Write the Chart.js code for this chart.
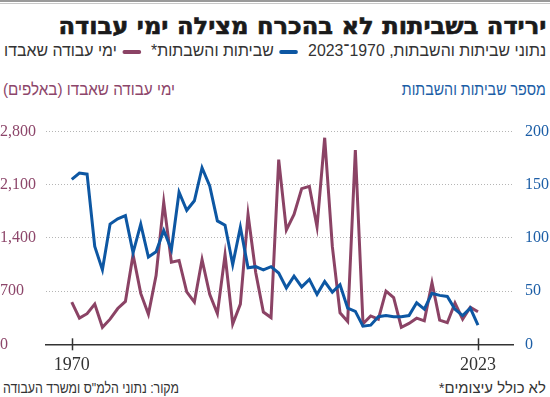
<!DOCTYPE html>
<html lang="he">
<head>
<meta charset="utf-8">
<script src="https://cdn.jsdelivr.net/npm/chart.js@4"></script>
<style>
  html, body { margin:0; padding:0; background:#fff; }
  body { width:550px; height:397px; position:relative; overflow:hidden; font-family:"Liberation Sans Narrow","Liberation Sans",sans-serif; }
  .rule { position:absolute; left:0; top:0; width:550px; height:2px; background:#9a9a9a; }
  .rule2 { position:absolute; left:0; top:3px; width:550px; height:1px; background:#c8c8c8; }
  .t { position:absolute; white-space:nowrap; direction:rtl; line-height:1; }
  .r { transform-origin: right center; }
  .l { transform-origin: left center; }
  #title { right:4px; top:15px; font-family:"DejaVu Sans","Liberation Sans",sans-serif; font-weight:bold; font-size:23px; color:#1a1a1a; -webkit-text-stroke:0.6px #1a1a1a; }
  #sub { right:4px; top:42px; font-size:17px; color:#333; }
  .sw { display:inline-block; width:20px; height:4px; border-radius:2px; vertical-align:middle; margin:0 6px; }
  #ytR { right:4px; top:81px; font-size:17px; color:#1c5ea6; }
  #ytL { left:3px; top:81px; font-size:17px; color:#8d466a; }
  #srcL { left:3px; top:380px; font-size:15px; color:#333; }
  #srcR { right:4px; top:380px; font-size:15px; color:#333; }
  #wrap { position:absolute; left:0; top:110px; width:550px; height:270px; }
</style>
</head>
<body>
<div class="rule"></div><div class="rule2"></div>
<div class="t r" id="title" data-w="488">ירידה בשביתות לא בהכרח מצילה ימי עבודה</div>
<div class="t r" id="sub" data-w="542">נתוני שביתות והשבתות, 1970־2023 <span class="sw" style="background:#0d57a3"></span>שביתות והשבתות* <span class="sw" style="background:#8b4365"></span>ימי עבודה שאבדו</div>
<div class="t r" id="ytR" data-w="144">מספר שביתות והשבתות</div>
<div class="t l" id="ytL" data-w="172">ימי עבודה שאבדו (באלפים)</div>
<div class="t l" id="srcL" data-w="176">מקור: נתוני הלמ"ס ומשרד העבודה</div>
<div class="t r" id="srcR" data-w="107">לא כולל עיצומים*</div>
<div id="wrap"><canvas id="c" width="550" height="270"></canvas></div>
<script>
// fit header/footer texts to the widths seen in the reference
document.querySelectorAll('[data-w]').forEach(el => {
  const w = el.getBoundingClientRect().width;
  const target = parseFloat(el.dataset.w);
  if (w > 0) el.style.transform = 'scaleX(' + (target / w).toFixed(4) + ')';
});

const years = [];
for (let y = 1970; y <= 2023; y++) years.push(y);

const strikes = [
  155, 161, 160, 92, 70, 113, 118, 121, 86, 113,
  82, 87, 107, 89, 143, 126, 135, 166, 149, 116,
  112, 75, 110, 72, 73, 70, 73, 67, 53, 64,
  54, 61, 47, 59, 49, 56, 34, 31, 17, 18,
  26, 27, 26, 26, 27, 39, 33, 48, 46, 45,
  33, 27, 34, 18
];

const daysLost = [
  555, 344, 403, 530, 224, 331, 471, 564, 1179, 670,
  395, 904, 1871, 1082, 1103, 691, 555, 1115, 657, 403,
  1179, 267, 530, 1709, 946, 424, 352, 2431, 1506, 1709,
  2049, 2079, 1548, 2719, 1285, 415, 301, 2558, 270, 373,
  331, 700, 615, 224, 275, 344, 309, 810, 318, 284,
  543, 331, 488, 428
];

const leftTicks = [0, 700, 1400, 2100, 2800];
const rightTicks = [0, 50, 100, 150, 200];
const xTicks = [1970, 2023];

const BLUE = '#0d57a3', PURPLE = '#8b4365';
const BLUE_TXT = '#1c5ea6', PURPLE_TXT = '#8d466a';

const crossTicks = {
  id: 'crossTicks',
  afterDraw(chart) {
    const x = chart.scales.x, ctx = chart.ctx;
    const yb = chart.chartArea.bottom;
    ctx.save();
    ctx.strokeStyle = '#333';
    ctx.lineWidth = 1.5;
    x.ticks.forEach(t => {
      const px = Math.round(x.getPixelForValue(t.value)) + 0.5;
      ctx.beginPath(); ctx.moveTo(px, yb - 6); ctx.lineTo(px, yb + 6); ctx.stroke();
    });
    ctx.restore();
  }
};

new Chart(document.getElementById('c'), {
  type: 'line',
  data: {
    labels: years,
    datasets: [
      { label: 'שביתות והשבתות', data: years.map((y, i) => ({x: y, y: strikes[i]})), yAxisID: 'y1', borderColor: BLUE, borderWidth: 3, pointRadius: 0, tension: 0, order: 1 },
      { label: 'ימי עבודה שאבדו', data: years.map((y, i) => ({x: y, y: daysLost[i]})), yAxisID: 'y', borderColor: PURPLE, borderWidth: 3, pointRadius: 0, tension: 0, order: 2 }
    ]
  },
  options: {
    responsive: false,
    animation: false,
    events: [],
    layout: { padding: { top: 15, left: 0, right: 0, bottom: 0 } },
    plugins: { legend: { display: false }, tooltip: { enabled: false }, title: { display: false } },
    scales: {
      x: {
        type: 'linear', min: 1966.6, max: 2027.57,
        afterBuildTicks: s => { s.ticks = xTicks.map(v => ({ value: v })); },
        afterFit: s => { s.height = 35.7; },
        ticks: { callback: v => String(v), color: '#333', font: { family: 'Liberation Sans Narrow', size: 18 }, padding: 10, maxRotation: 0, autoSkip: false },
        grid: { display: false, drawTicks: false },
        border: { display: true, color: '#333', width: 1.5 }
      },
      y: {
        position: 'left', min: 0, max: 2800,
        afterBuildTicks: s => { s.ticks = leftTicks.map(v => ({ value: v })); },
        afterFit: s => { s.width = 45.7; },
        ticks: { color: PURPLE_TXT, font: { family: 'Liberation Sans Narrow', size: 16 }, crossAlign: 'far', padding: 4, callback: v => v.toLocaleString('en-US') },
        grid: { color: '#b5b5b5', lineWidth: 1, drawTicks: false },
        border: { display: false, dash: [1, 2] }
      },
      y1: {
        position: 'right', min: 0, max: 200,
        afterBuildTicks: s => { s.ticks = rightTicks.map(v => ({ value: v })); },
        afterFit: s => { s.width = 37; },
        ticks: { color: BLUE_TXT, font: { family: 'Liberation Sans Narrow', size: 16 }, crossAlign: 'near', padding: 12 },
        grid: { display: false, drawTicks: false },
        border: { display: false }
      }
    }
  },
  plugins: [crossTicks]
});
</script>
</body>
</html>
